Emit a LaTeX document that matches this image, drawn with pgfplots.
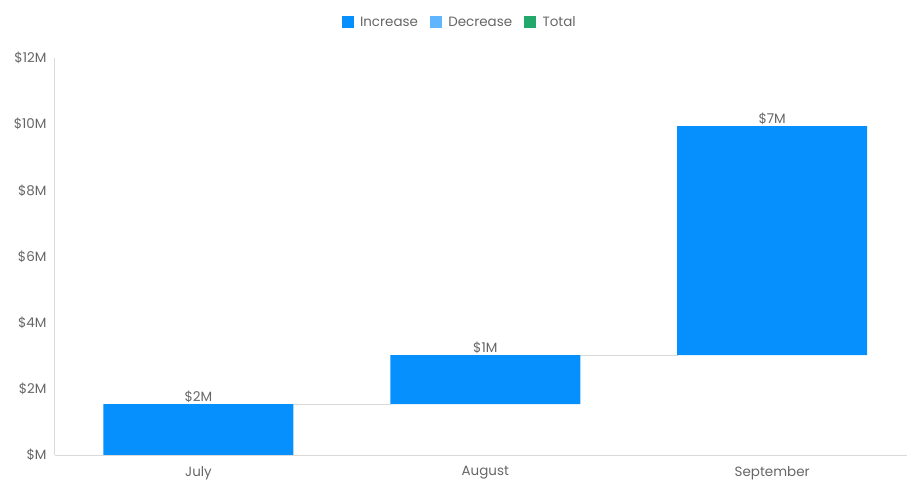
\documentclass[border=0pt]{standalone}
\usepackage{pgfplots}
\pgfplotsset{compat=1.18}
\usepackage{fontspec}
\setmainfont{Poppins}
\definecolor{inc}{HTML}{0590FE}
\definecolor{dec}{HTML}{60B5FF}
\definecolor{tot}{HTML}{22A86B}
\definecolor{axgray}{HTML}{DADADA}
\definecolor{labgray}{HTML}{666666}
\begin{document}
\begin{tikzpicture}
\pgfplotsset{common/.style={
  scale only axis, width=852bp, height=397bp,
  xmin=-0.5, xmax=2.47, ymin=0, ymax=12,
  at={(0,0)}, anchor=south west}}
% connectors and bar labels
\begin{axis}[common, hide axis]
\addplot[axgray, line width=1bp] coordinates {(0.33,1.54) (0.67,1.54)};
\addplot[axgray, line width=1bp] coordinates {(1.33,3.02) (1.67,3.02)};
\addplot[draw=none, mark=none, nodes near coords, point meta=explicit symbolic,
  every node near coord/.style={anchor=south, text=labgray, inner sep=1bp, font=\fontsize{13.5}{15}\selectfont}]
  coordinates {(0,1.54) [\$2M] (1,3.02) [\$1M] (2,9.94) [\$7M]};
\end{axis}
\begin{axis}[common, ybar stacked, bar width=0.662,
  axis x line*=bottom, axis y line*=left,
  axis line style={draw=axgray, line width=1bp, -},
  tick style={draw=none},
  xtick={0,1,2}, xticklabels={July,August,September},
  ytick={0,2,4,6,8,10,12},
  yticklabels={\$M,\$2M,\$4M,\$6M,\$8M,\$10M,\$12M},
  ticklabel style={text=labgray, font=\fontsize{13.5}{15}\selectfont},
  xticklabel style={yshift=-8bp},
  yticklabel style={xshift=-5bp},
  legend style={at={(0.475,1.09)}, anchor=center, legend columns=-1,
    draw=none, fill=none, text=labgray, font=\fontsize{13.5}{15}\selectfont,
    /tikz/every odd column/.append style={column sep=5bp},
    /tikz/every even column/.append style={column sep=10bp}},
  ]
\addlegendimage{legend image code/.code={\fill[inc] (0bp,-5bp) rectangle (11bp,6bp);}}
\addlegendentry{Increase}
\addlegendimage{legend image code/.code={\fill[dec] (0bp,-5bp) rectangle (11bp,6bp);}}
\addlegendentry{Decrease}
\addlegendimage{legend image code/.code={\fill[tot] (0bp,-5bp) rectangle (11bp,6bp);}}
\addlegendentry{Total}
\addplot[draw=none, fill=none, forget plot] coordinates {(0,0) (1,1.54) (2,3.02)};
\addplot[fill=inc, draw=none, forget plot]
  coordinates {(0,1.54) (1,1.48) (2,6.92)};
\end{axis}
\pgfresetboundingbox
\path[use as bounding box] (-55bp,-26bp) rectangle (852bp,455bp);
\end{tikzpicture}
\end{document}
